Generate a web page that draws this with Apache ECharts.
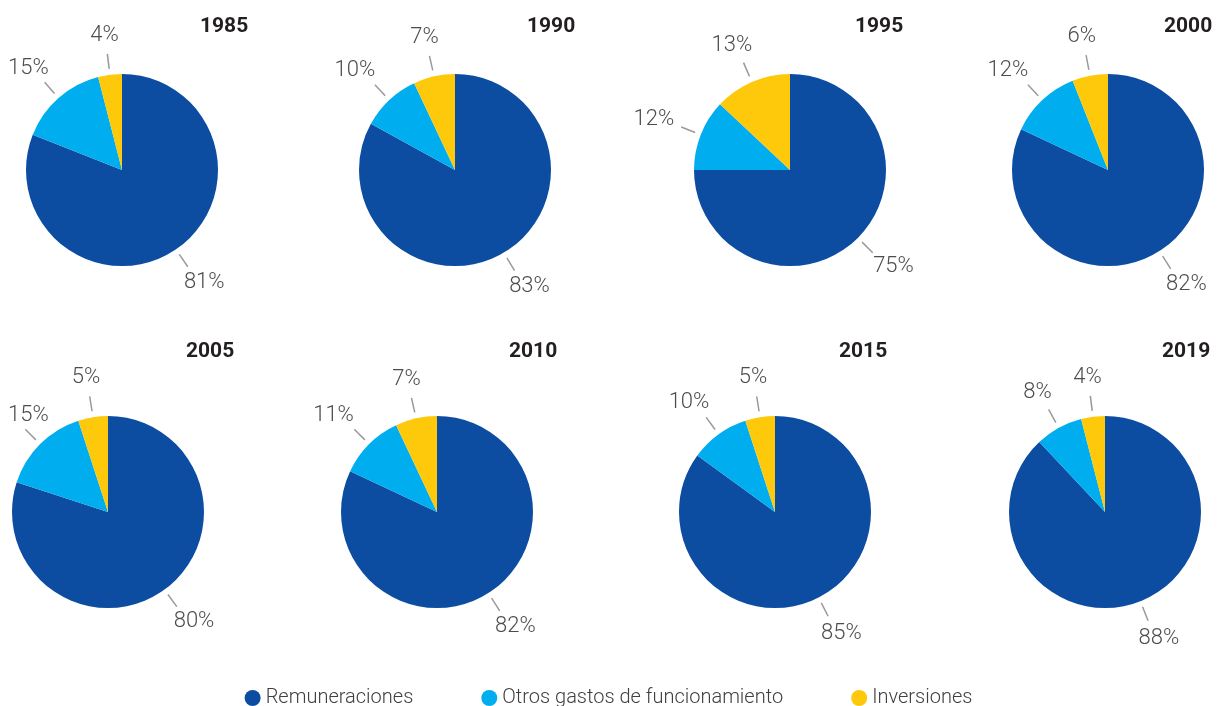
<!DOCTYPE html>
<html>
<head>
<meta charset="utf-8">
<script src="https://cdn.jsdelivr.net/npm/echarts@6/dist/echarts.min.js"></script>
<style>
  html, body { margin: 0; padding: 0; background: #fff; }
  #chart { width: 1217px; height: 706px; }
</style>
</head>
<body>
<div id="chart"></div>
<script>
// datos
var categorias = ["Remuneraciones", "Otros gastos de funcionamiento", "Inversiones"];
var anios = ["1985", "1990", "1995", "2000", "2005", "2010", "2015", "2019"];
var remuneraciones = [81, 83, 75, 82, 80, 82, 85, 88];
var otrosGastos = [15, 10, 12, 12, 15, 11, 10, 8];
var inversiones = [4, 7, 13, 6, 5, 7, 5, 4];

var colores = ["#0c4da2", "#00adef", "#fec80b"];
var fuente = "Roboto, 'Noto Sans', sans-serif";

// centros de cada torta (x, y) y posicion del titulo
var centros = [
  [122, 170], [455, 170], [790, 170], [1108, 170],
  [108, 512], [437, 512], [775, 512], [1105, 512]
];
var titulos = [
  [200, 16], [527, 16], [855, 16], [1164, 16],
  [186, 341], [509, 341], [839, 341], [1162, 341]
];
var radio = 96;

var myChart = echarts.init(document.getElementById("chart"));

// coloca la etiqueta despues del final de la linea guia, en la direccion del sector
function ubicarEtiqueta(params) {
  var c = centros[Math.floor(params.seriesIndex / 3)];
  var r = params.labelRect;
  var cx = r.x + r.width / 2, cy = r.y + r.height / 2;
  var dx = cx - c[0], dy = cy - c[1];
  var d = Math.sqrt(dx * dx + dy * dy) || 1;
  var ux = dx / d, uy = dy / d;
  var px = c[0] + (radio + 30) * ux;
  var py = c[1] + (radio + 30) * uy;
  var x = px + ux * r.width / 2;
  var y = py + uy * r.height * 0.45;
  x = Math.max(x, r.width / 2 + 8);
  return { x: x, y: y, align: "center", verticalAlign: "middle" };
}

var title = [];
var series = [];
anios.forEach(function (anio, i) {
  var datos = [
    { name: categorias[0], value: remuneraciones[i] },
    { name: categorias[1], value: otrosGastos[i] },
    { name: categorias[2], value: inversiones[i] }
  ];
  title.push({
    text: anio,
    left: titulos[i][0],
    top: titulos[i][1],
    padding: 0,
    textStyle: { fontFamily: fuente, fontSize: 21, fontWeight: "bold", color: "#231f20" }
  });
  // torta principal
  series.push({
    type: "pie",
    center: centros[i],
    radius: radio,
    startAngle: 90,
    clockwise: true,
    animation: false,
    silent: true,
    color: colores,
    label: { show: false },
    labelLine: { show: false },
    data: datos
  });
  // lineas guia (separadas del borde)
  series.push({
    type: "pie",
    center: centros[i],
    radius: radio + 6,
    startAngle: 90,
    animation: false,
    silent: true,
    itemStyle: { color: "rgba(0,0,0,0)" },
    label: { show: true, formatter: " ", fontSize: 1 },
    labelLine: { show: true, length: 15, length2: 0, lineStyle: { color: "#9a9a9a", width: 1.5 } },
    labelLayout: { hideOverlap: false },
    data: datos
  });
  // etiquetas de porcentaje
  series.push({
    type: "pie",
    center: centros[i],
    radius: [radio + 28, radio + 60],
    startAngle: 90,
    animation: false,
    silent: true,
    itemStyle: { color: "rgba(0,0,0,0)" },
    label: {
      show: true,
      position: "inside",
      formatter: "{c}%",
      fontFamily: fuente,
      fontWeight: 300,
      fontSize: 22,
      color: "#4d4d4d"
    },
    labelLine: { show: false },
    labelLayout: ubicarEtiqueta,
    data: datos
  });
});

var option = {
  backgroundColor: "#fff",
  title: title,
  legend: {
    data: categorias,
    left: "center",
    top: 683,
    icon: "circle",
    itemWidth: 16,
    itemHeight: 16,
    itemGap: 68,
    textStyle: { fontFamily: fuente, fontSize: 20, fontWeight: 300, color: "#404040" }
  },
  series: series
};
myChart.setOption(option);
</script>
</body>
</html>
